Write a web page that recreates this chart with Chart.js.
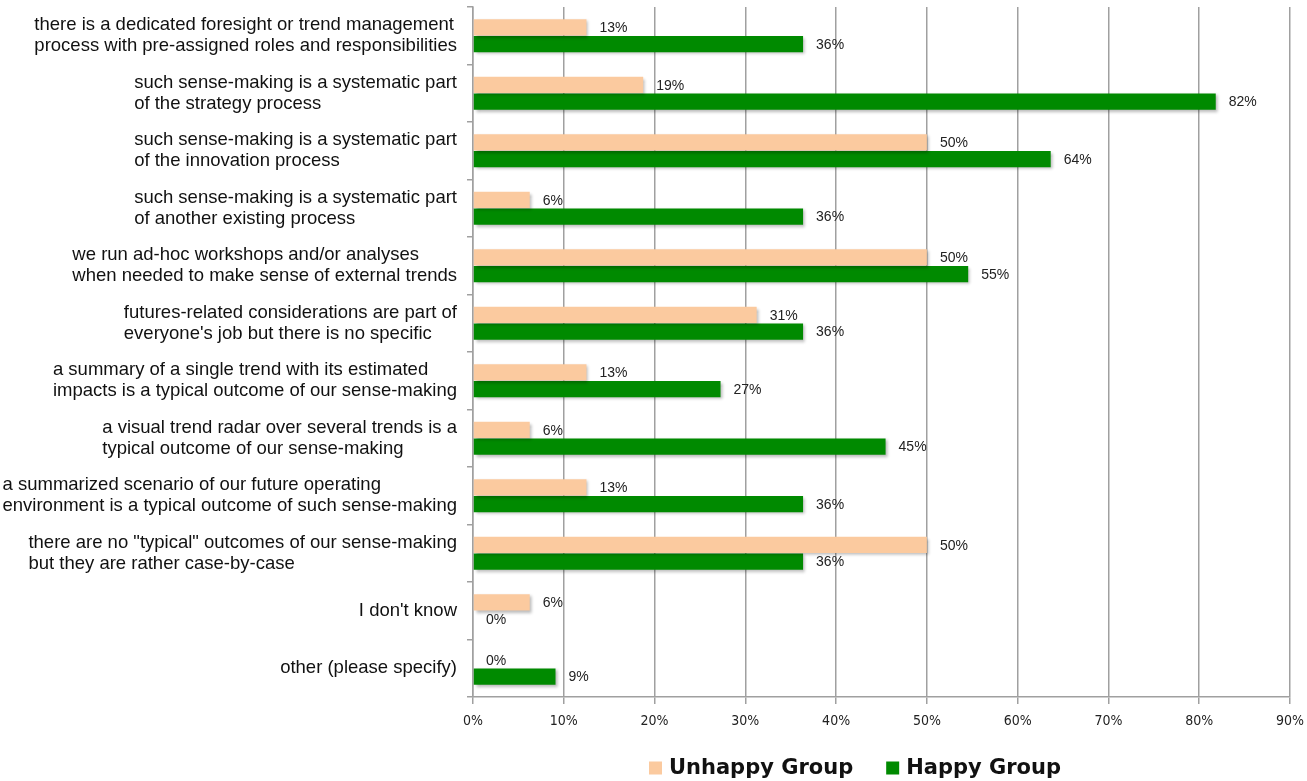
<!DOCTYPE html>
<html>
<head>
<meta charset="utf-8">
<script src="https://cdn.jsdelivr.net/npm/chart.js@4.4.1/dist/chart.umd.min.js"></script>
<style>
  html, body { margin: 0; padding: 0; background: #fff; }
  #wrap { width: 1307px; height: 781px; }
</style>
</head>
<body>
<div id="wrap"><canvas id="chart" width="1307" height="781"></canvas></div>
<script>
// Category labels (already split into lines as in the original)
const categories = [
    ['there is a dedicated foresight or trend management', 'process with pre-assigned roles and responsibilities'],
    ['such sense-making is a systematic part', 'of the strategy process'],
    ['such sense-making is a systematic part', 'of the innovation process'],
    ['such sense-making is a systematic part', 'of another existing process'],
    ['we run ad-hoc workshops and/or analyses', 'when needed to make sense of external trends'],
    ['futures-related considerations are part of', "everyone's job but there is no specific"],
    ['a summary of a single trend with its estimated', 'impacts is a typical outcome of our sense-making'],
    ['a visual trend radar over several trends is a', 'typical outcome of our sense-making'],
    ['a summarized scenario of our future operating', 'environment is a typical outcome of such sense-making'],
    ['there are no "typical" outcomes of our sense-making', 'but they are rather case-by-case'],
    ["I don't know"],
    ['other (please specify)']
];

// Percent values
const unhappyValues = [12.5, 18.75, 50, 6.25, 50, 31.25, 12.5, 6.25, 12.5, 50, 6.25, 0];
const happyValues = [36.36, 81.82, 63.64, 36.36, 54.55, 36.36, 27.27, 45.45, 36.36, 36.36, 0, 9.09];

// Axis ticks
const xTickValues = [0, 10, 20, 30, 40, 50, 60, 70, 80, 90];

const seriesNames = ['Unhappy Group', 'Happy Group'];
const seriesColors = ['#fbca9f', '#008a00'];

const labelFont = '18.5px "Liberation Sans", Arial, sans-serif';
const valueFont = '14px "Liberation Sans", Arial, sans-serif';

// Soft drop shadow under the bars
const barShadow = {
    id: 'barShadow',
    beforeDatasetDraw(chart) {
        const ctx = chart.ctx;
        ctx.save();
        ctx.shadowColor = 'rgba(0,0,0,0.28)';
        ctx.shadowBlur = 3;
        ctx.shadowOffsetX = 2;
        ctx.shadowOffsetY = 2;
    },
    afterDatasetDraw(chart) {
        chart.ctx.restore();
    }
};

// Value labels at bar ends
const valueLabels = {
    id: 'valueLabels',
    afterDatasetsDraw(chart) {
        const ctx = chart.ctx;
        ctx.save();
        ctx.font = valueFont;
        ctx.fillStyle = '#222';
        ctx.textAlign = 'left';
        ctx.textBaseline = 'middle';
        chart.data.datasets.forEach((ds, i) => {
            const meta = chart.getDatasetMeta(i);
            meta.data.forEach((bar, j) => {
                ctx.fillText(Math.round(ds.data[j]) + '%', bar.x + 13, bar.y + 1);
            });
        });
        ctx.restore();
    }
};

// Category labels: each block right-aligned, lines left-aligned inside it
const categoryLabels = {
    id: 'categoryLabels',
    afterDraw(chart) {
        const ctx = chart.ctx;
        const yScale = chart.scales.y;
        const right = chart.chartArea.left - 16;
        const lineH = 21;
        ctx.save();
        ctx.font = labelFont;
        ctx.fillStyle = '#111';
        ctx.textAlign = 'left';
        ctx.textBaseline = 'middle';
        categories.forEach((lines, i) => {
            const yc = yScale.getPixelForTick(i);
            const w = Math.max(...lines.map(l => ctx.measureText(l).width));
            const x = right - w;
            const y0 = yc - (lines.length - 1) * lineH / 2;
            lines.forEach((l, k) => ctx.fillText(l, x, y0 + k * lineH));
        });
        ctx.restore();
    }
};

// Legend drawn below the axis
const bottomLegend = {
    id: 'bottomLegend',
    afterDraw(chart) {
        const ctx = chart.ctx;
        ctx.save();
        ctx.font = 'bold 21px "DejaVu Sans", Verdana, sans-serif';
        ctx.textBaseline = 'middle';
        ctx.textAlign = 'left';
        const box = 13, gapBox = 7, gapItem = 33;
        const widths = chart.data.datasets.map(ds => box + gapBox + ctx.measureText(ds.label).width);
        const total = widths.reduce((a, b) => a + b, 0) + gapItem * (widths.length - 1);
        let x = 855 - total / 2;
        const y = 768;
        chart.data.datasets.forEach((ds, i) => {
            ctx.fillStyle = ds.backgroundColor;
            ctx.fillRect(x, y - box / 2, box, box);
            ctx.fillStyle = '#111';
            ctx.fillText(ds.label, x + box + gapBox, y + 1);
            x += widths[i] + gapItem;
        });
        ctx.restore();
    }
};

const ctx = document.getElementById('chart').getContext('2d');
new Chart(ctx, {
    type: 'bar',
    data: {
        labels: categories,
        datasets: [
            { label: seriesNames[0], data: unhappyValues, backgroundColor: seriesColors[0] },
            { label: seriesNames[1], data: happyValues, backgroundColor: seriesColors[1] }
        ]
    },
    options: {
        indexAxis: 'y',
        responsive: false,
        animation: false,
        categoryPercentage: 0.58,
        barPercentage: 0.98,
        layout: { padding: { top: 7, right: 17, bottom: 44, left: 0 } },
        plugins: {
            legend: { display: false },
            tooltip: { enabled: false }
        },
        scales: {
            x: {
                min: 0,
                max: 90,
                afterBuildTicks(scale) {
                    scale.ticks = xTickValues.map(v => ({ value: v }));
                },
                afterFit(scale) {
                    scale.height = 40;
                    scale.paddingLeft = 0;
                    scale.paddingRight = 0;
                },
                grid: { color: '#a0a0a0', lineWidth: 1.5, tickLength: 7 },
                border: { color: '#a0a0a0', width: 1.5 },
                ticks: {
                    padding: 9,
                    color: '#222',
                    font: { family: '"DejaVu Sans Condensed", "DejaVu Sans", Verdana, sans-serif', size: 14 },
                    callback: v => v + '%'
                }
            },
            y: {
                afterFit(scale) {
                    scale.width = 473;
                    scale.paddingTop = 0;
                    scale.paddingBottom = 0;
                },
                grid: { offset: true, drawOnChartArea: false, color: '#a0a0a0', lineWidth: 1.5, tickLength: 6 },
                border: { color: '#a0a0a0', width: 1.5 },
                ticks: { color: 'rgba(0,0,0,0)', font: { size: 4 } }
            }
        }
    },
    plugins: [barShadow, valueLabels, categoryLabels, bottomLegend]
});
</script>
</body>
</html>
